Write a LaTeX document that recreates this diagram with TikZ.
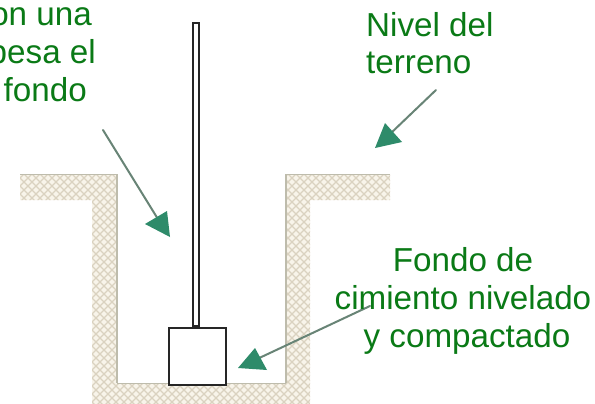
\documentclass[tikz,border=0pt]{standalone}
\usepackage{fontspec}
\setmainfont{Liberation Sans}
\definecolor{labelgreen}{RGB}{10,122,22}
\definecolor{headgreen}{RGB}{46,139,106}
\definecolor{shaftgrey}{RGB}{104,132,118}
\definecolor{soilfill}{RGB}{248,244,234}
\definecolor{soilhatch}{RGB}{218,210,192}
\definecolor{soiledge}{RGB}{190,188,172}
\tikzset{
  x=1pt,y=-1pt,
  labeltext/.style={text=labelgreen,font=\fontsize{33.2}{38}\selectfont,inner sep=0pt,anchor=base},
  labelright/.style={labeltext,anchor=base east},
  shaft/.style={draw=shaftgrey,line width=2pt,line cap=round},
  arrowhead/.style={fill=headgreen,draw=none},
  concrete/.style={draw=black!85,line width=1.9pt,fill=white,line join=miter},
  soiledgeline/.style={draw=soiledge,line width=1.8pt},
  hatchline/.style={draw=soilhatch,line width=1.1pt}
}
\begin{document}
\begin{tikzpicture}
\useasboundingbox (0,0) rectangle (595,404);
\fill[white] (0,0) rectangle (595,404);
% soil
\begin{scope}
\clip (20,174) -- (117,174) -- (117,383) -- (286,383) -- (286,174) -- (390,174) -- (390,200) -- (310,200) -- (310,404) -- (92,404) -- (92,200) -- (20,200) -- cycle;
\fill[soilfill] (0,150) rectangle (420,404);
\foreach \k in {-400,-392,...,800}{
  \draw[hatchline] (\k,150) -- ++(270,270);
  \draw[hatchline] (\k,150) -- ++(-270,270);
}
\end{scope}
\draw[soiledgeline] (117,174) -- (117,383);
\draw[soiledgeline] (286,383) -- (286,174);
\draw[soiledge,line width=.6pt] (117,383) -- (286,383);
\draw[soiledge,line width=.6pt] (286,174) -- (390,174);
\draw[soiledge,line width=.6pt] (20,174) -- (117,174);
% footing and column
\node[concrete,minimum width=57pt,minimum height=57pt,inner sep=0pt,anchor=north west] (zapata) at (168,327) {};
\node[concrete,minimum width=6pt,minimum height=303pt,inner sep=0pt,anchor=south] (pilar) at (196,327) {};
% arrow coordinates
\coordinate (a1s) at (103,130);
\coordinate (a1e) at (161,224);
\coordinate (a2s) at (436,90);
\coordinate (a2e) at (390,134);
\coordinate (a3s) at (370,306);
\coordinate (a3e) at (255,360);
\draw[shaft] (a1s) -- (a1e);
\draw[shaft] (a2s) -- (a2e);
\draw[shaft] (a3s) -- (a3e);
\fill[arrowhead] (145,224) -- (167,211) -- (170,237) -- cycle;
\fill[arrowhead] (375,148) -- (385,123) -- (402,142) -- cycle;
\fill[arrowhead] (238,368) -- (255,348) -- (267,370) -- cycle;
% labels
\node[labelright] (l1) at (92,26) {on una};
\node[labelright] (l2) at (96,64) {pesa el};
\node[labelright] (l3) at (87,102) {fondo};
\node[labeltext,anchor=base west] (n1) at (366,37) {Nivel del};
\node[labeltext,anchor=base west] (n2) at (366,74) {terreno};
\node[labeltext] (f1) at (463,271) {Fondo de};
\node[labeltext] (f2) at (463,309) {cimiento nivelado};
\node[labeltext] (f3) at (467,347) {y compactado};
\end{tikzpicture}
\end{document}
